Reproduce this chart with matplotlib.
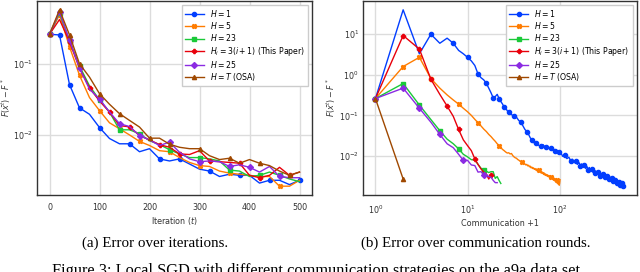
import matplotlib
matplotlib.use("Agg")
import matplotlib.pyplot as plt
import numpy as np

# ---- panel (a): error vs iteration, sampled every 20 iterations ----
iters = list(range(0, 501, 20))

err_h1 = [0.26, 0.255, 0.051, 0.024, 0.0195, 0.0127, 0.0089, 0.0075, 0.0075, 0.0058, 0.0064, 0.0046, 0.0043,
          0.0046, 0.0039, 0.0033, 0.0031, 0.0026, 0.0028, 0.0027, 0.0027, 0.0021, 0.0023, 0.0023, 0.0020, 0.0023]
err_h5 = [0.26, 0.49, 0.174, 0.069, 0.0335, 0.022, 0.0148, 0.0122, 0.0100, 0.0081, 0.0071, 0.0060, 0.0058,
          0.0048, 0.0041, 0.0037, 0.0036, 0.0031, 0.0029, 0.0028, 0.0027, 0.0026, 0.0026, 0.0019, 0.0019, 0.0023]
err_h23 = [0.26, 0.52, 0.21, 0.093, 0.049, 0.031, 0.021, 0.0118, 0.0118, 0.0104, 0.0083, 0.0073, 0.0062,
           0.0054, 0.0048, 0.0048, 0.0046, 0.0043, 0.0032, 0.0031, 0.0026, 0.0027, 0.0030, 0.0027, 0.0024, 0.0022]
err_hi = [0.26, 0.42, 0.205, 0.087, 0.046, 0.030, 0.021, 0.0135, 0.0130, 0.0098, 0.0085, 0.0073, 0.0067,
          0.0054, 0.0053, 0.0060, 0.0043, 0.0042, 0.0041, 0.0040, 0.0027, 0.0025, 0.0027, 0.0035, 0.0027, 0.0030]
err_h25 = [0.26, 0.54, 0.215, 0.087, 0.044, 0.032, 0.021, 0.0144, 0.0131, 0.0098, 0.0085, 0.0071, 0.0079,
           0.0057, 0.0046, 0.0042, 0.0043, 0.0042, 0.0036, 0.0038, 0.0035, 0.0030, 0.0036, 0.0026, 0.0025, 0.0025]
err_osa = [0.26, 0.575, 0.255, 0.10, 0.065, 0.038, 0.027, 0.0199, 0.016, 0.0129, 0.0090, 0.0090, 0.0074,
           0.0067, 0.0064, 0.0064, 0.0051, 0.0045, 0.0047, 0.0040, 0.0045, 0.0040, 0.0037, 0.0031, 0.0027, 0.0030]

# ---- panel (b): error vs communication rounds + 1 ----
comm_h1 = (list(range(1, 31)) + list(range(32, 61, 2)) + list(range(63, 100, 3))
           + list(range(102, 499, 6)) + [501])
val_h1 = [0.26, 40, 3.3, 10, 6.0, 8.0, 6.0, 4.0, 3.3, 2.7, 2.2, 1.7, 1.05, 0.85, 0.75, 0.62, 0.47, 0.36, 0.27,
          0.29, 0.33, 0.26, 0.22, 0.19, 0.16, 0.15, 0.13, 0.12, 0.11, 0.105,
          0.095, 0.09, 0.075, 0.068, 0.055, 0.045, 0.04, 0.034, 0.028, 0.025, 0.022, 0.020, 0.021, 0.019, 0.018,
          0.0175, 0.019, 0.017, 0.0163, 0.016, 0.015, 0.016, 0.014, 0.0145, 0.013, 0.0135, 0.0129, 0.0125,
          0.0125, 0.0098, 0.0106, 0.0086, 0.0093, 0.0076, 0.0083, 0.0069, 0.0075, 0.0062, 0.0069, 0.0058,
          0.0064, 0.0053, 0.0059, 0.0049, 0.0055, 0.0046, 0.0052, 0.0043, 0.0048, 0.0040, 0.0045, 0.0038,
          0.0043, 0.0036, 0.0041, 0.0035, 0.0039, 0.0033, 0.0037, 0.0032, 0.0036, 0.0031, 0.0035, 0.0030,
          0.0034, 0.0029, 0.0033, 0.0028, 0.0031, 0.0027, 0.0030, 0.0026, 0.0029, 0.0025, 0.0028, 0.0024,
          0.0027, 0.0023, 0.0026, 0.0022, 0.0025, 0.0021, 0.0024, 0.0021, 0.0023, 0.0020, 0.0022, 0.0019,
          0.0021, 0.0019, 0.0021, 0.0018, 0.0020, 0.0018, 0.0020, 0.0018]

comm_h5 = list(range(1, 102))
val_h5 = [0.26, 1.6, 2.7, 0.81, 0.47, 0.32, 0.24, 0.19, 0.15, 0.123, 0.10, 0.08, 0.066, 0.055, 0.046, 0.040,
          0.034, 0.030, 0.026, 0.023, 0.020, 0.018, 0.016, 0.0145, 0.0135, 0.0125, 0.0118, 0.0120, 0.0112,
          0.0115, 0.0102, 0.0095, 0.0090, 0.0088, 0.0082, 0.0079, 0.0075, 0.0072, 0.0070, 0.0066, 0.0068,
          0.0063, 0.0060, 0.0062, 0.0057, 0.0059, 0.0054, 0.0056, 0.0051, 0.0053, 0.0049, 0.0051, 0.0047,
          0.0049, 0.0045, 0.0048, 0.0043, 0.0046, 0.0041, 0.0044, 0.0040, 0.0042, 0.0038, 0.0041, 0.0037,
          0.0039, 0.0035, 0.0038, 0.0034, 0.0036, 0.0033, 0.0035, 0.0032, 0.0034, 0.0031, 0.0033, 0.0030,
          0.0032, 0.0029, 0.0031, 0.0028, 0.0030, 0.0027, 0.0029, 0.0026, 0.0029, 0.0025, 0.0028, 0.0024,
          0.0027, 0.0023, 0.0026, 0.0022, 0.0025, 0.0021, 0.0024, 0.0020, 0.0023, 0.0019, 0.0021, 0.0026]

comm_h23 = list(range(1, 24))
val_h23 = [0.26, 0.61, 0.18, 0.079, 0.042, 0.026, 0.020, 0.015, 0.011, 0.0095, 0.0081, 0.0080, 0.0062,
           0.0050, 0.0044, 0.0042, 0.0039, 0.0041, 0.0041, 0.0028, 0.0031, 0.0025, 0.0021]

comm_hi = list(range(1, 19))
val_hi = [0.26, 9.3, 4.3, 0.78, 0.33, 0.17, 0.095, 0.045, 0.025, 0.018, 0.0135, 0.0085, 0.0062, 0.0048,
          0.0040, 0.0036, 0.0027, 0.0034]

comm_h25 = list(range(1, 22))
val_h25 = [0.26, 0.47, 0.15, 0.068, 0.034, 0.020, 0.016, 0.011, 0.0078, 0.0078, 0.0060, 0.0058, 0.0040,
           0.0041, 0.0034, 0.0034, 0.0031, 0.0030, 0.0025, 0.0022, 0.0022]

comm_osa = [1, 2]
val_osa = [0.26, 0.0027]

labels = ["$H = 1$", "$H = 5$", "$H = 23$", "$H_i = 3(i+1)$ (This Paper)", "$H = 25$", "$H = T$ (OSA)"]
colors = ["#023eff", "#ff7c00", "#1ac938", "#e8000b", "#8b2be2", "#9f4800"]
markers = ["o", "X", "s", "P", "D", "^"]

fig = plt.figure(figsize=(6.4, 2.72), dpi=100)
ax1 = fig.add_axes([37 / 640, 1 - 195 / 272, 275 / 640, 194 / 272])
ax2 = fig.add_axes([363 / 640, 1 - 195 / 272, 273.5 / 640, 194 / 272])

left_series = [err_h1, err_h5, err_h23, err_hi, err_h25, err_osa]
for ys, lab, c, m in zip(left_series, labels, colors, markers):
    ax1.plot(iters, ys, color=c, marker=m, markersize=3, linewidth=1, label=lab, markevery=0.09)

right_series = [(comm_h1, val_h1), (comm_h5, val_h5), (comm_h23, val_h23),
                (comm_hi, val_hi), (comm_h25, val_h25), (comm_osa, val_osa)]
for i, ((xs, ys), lab, c, m) in enumerate(zip(right_series, labels, colors, markers)):
    me = 3 if i == 0 else 0.09
    ax2.plot(xs, ys, color=c, marker=m, markersize=3, linewidth=1, label=lab, markevery=me)

for ax in (ax1, ax2):
    ax.set_yscale("log")
    ax.grid(True, color="#dcdcdc", linewidth=1)
    ax.set_axisbelow(True)
    ax.tick_params(which="both", length=0, labelsize=5.8, colors="#333333")
    ax.tick_params(axis="y", pad=3)
    ax.tick_params(axis="x", pad=6)
    for s in ax.spines.values():
        s.set_color("#333333")
        s.set_linewidth(1)
    ax.set_ylabel(r"$F(\bar{x}^t) - F^*$", fontsize=5.8, color="#333333")
    ax.legend(loc="upper right", fontsize=5.6, borderaxespad=0.5, handlelength=2.4,
              labelspacing=0.15, borderpad=0.4, fancybox=False, edgecolor="#cccccc", framealpha=1)

ax1.yaxis.set_label_coords(-0.088, 0.5)
ax2.yaxis.set_label_coords(-0.092, 0.5)

ax1.set_xticks([0, 100, 200, 300, 400, 500])
ax1.set_xlabel("Iteration $(t)$", fontsize=5.8, color="#333333", labelpad=2)
ax2.set_xscale("log")
ax2.set_xlabel("Communication +1", fontsize=5.8, color="#333333", labelpad=2)

serif = ["Liberation Serif", "DejaVu Serif"]
fig.text(155 / 640, 1 - 243 / 272, "(a) Error over iterations.", family=serif, fontsize=10.8,
         ha="center", va="center")
fig.text(476 / 640, 1 - 243 / 272, "(b) Error over communication rounds.", family=serif, fontsize=10.8,
         ha="center", va="center")
fig.text(318 / 640, -0.012, "Figure 3: Local SGD with different communication strategies on the a9a data set.",
         family=serif, fontsize=11.8, ha="center", va="baseline")

fig.savefig("out.png", dpi=100)
